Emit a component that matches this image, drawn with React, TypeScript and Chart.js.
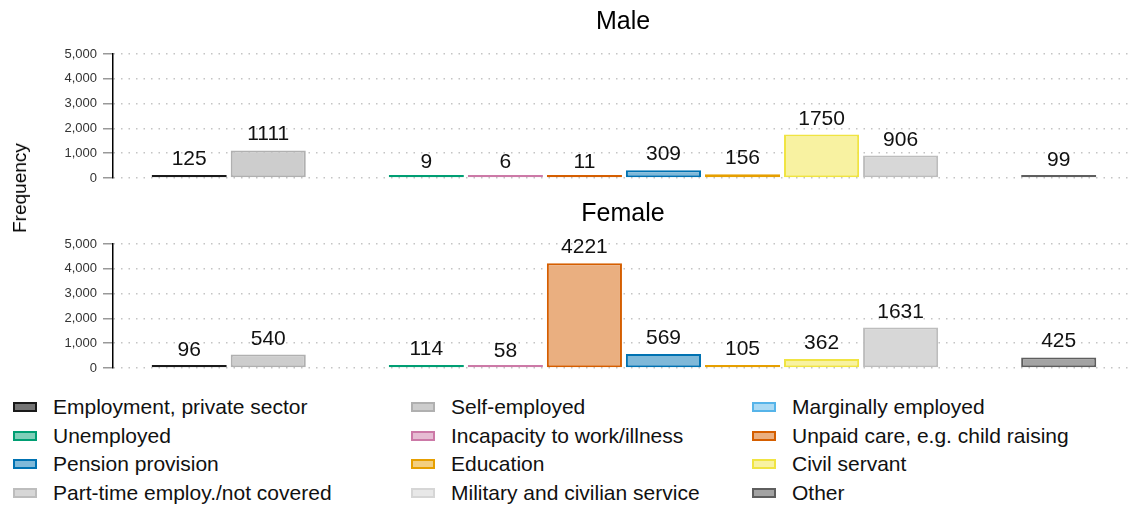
import React, { useEffect, useRef } from "react";
import { Chart, registerables } from "chart.js";

Chart.register(...registerables);

const FONT = "'Liberation Sans', Arial, sans-serif";

const categories = [
  "Employment, private sector",
  "Self-employed",
  "Marginally employed",
  "Unemployed",
  "Incapacity to work/illness",
  "Unpaid care, e.g. child raising",
  "Pension provision",
  "Education",
  "Civil servant",
  "Part-time employ./not covered",
  "Military and civilian service",
  "Other",
];

const maleValues: (number | null)[] = [125, 1111, null, 9, 6, 11, 309, 156, 1750, 906, null, 99];
const femaleValues: (number | null)[] = [96, 540, null, 114, 58, 4221, 569, 105, 362, 1631, null, 425];

const fillColors = [
  "#747474",
  "#cdcdcd",
  "#abdaf4",
  "#80cfb9",
  "#e6bcd3",
  "#eaaf80",
  "#80b9d9",
  "#f3cf80",
  "#f8f2a1",
  "#d7d7d7",
  "#e8e8e8",
  "#a3a3a3",
];

const borderColors = [
  "#1a1a1a",
  "#b0b0b0",
  "#56b4e9",
  "#009e73",
  "#cc79a7",
  "#d55e00",
  "#0072b2",
  "#e69f00",
  "#f0e442",
  "#bdbdbd",
  "#d6d6d6",
  "#5e5e5e",
];

const yTicks = [0, 1000, 2000, 3000, 4000, 5000];
const panelTitles = ["Male", "Female"];
const yAxisTitle = "Frequency";

const valueLabels = {
  id: "valueLabels",
  afterDatasetsDraw(chart: any) {
    const { ctx } = chart;
    const meta = chart.getDatasetMeta(0);
    const ds = chart.data.datasets[0];
    const yScale = chart.scales.y;
    ctx.save();
    ctx.font = `21px ${FONT}`;
    ctx.fillStyle = "#111";
    ctx.textAlign = "center";
    ctx.textBaseline = "alphabetic";
    meta.data.forEach((el: any, i: number) => {
      const raw: any = ds.data[i];
      const v = raw ? raw.y : null;
      if (v == null) return;
      ctx.fillText(String(v), el.x, yScale.getPixelForValue(v) - 10);
    });
    ctx.restore();
  },
};

function Panel({ title, values, titlePad }: { title: string; values: (number | null)[]; titlePad: { top: number; bottom: number } }) {
  const ref = useRef<HTMLCanvasElement>(null);
  useEffect(() => {
    if (!ref.current) return;
    const chart = new Chart(ref.current, {
      type: "bar",
      data: {
        datasets: [
          {
            data: values.map((v, i) => ({ x: i + 1, y: v })) as any,
            backgroundColor: fillColors,
            borderColor: borderColors,
            borderWidth: 2,
            borderSkipped: false,
            minBarLength: 3,
            barPercentage: 0.95,
            categoryPercentage: 1,
          } as any,
        ],
      },
      options: {
        responsive: false,
        animation: false,
        devicePixelRatio: 1,
        layout: { padding: { left: 0, right: 0, top: 0, bottom: 12 } },
        plugins: {
          legend: { display: false },
          tooltip: { enabled: false },
          title: {
            display: true,
            text: title,
            fullSize: false,
            color: "#000",
            font: { size: 25, family: FONT, weight: "normal" as any },
            padding: titlePad,
          },
        },
        scales: {
          x: {
            type: "linear",
            min: 0.036,
            max: 12.94,
            offset: false,
            display: false,
            grid: { offset: false },
            afterBuildTicks: (s: any) => {
              s.ticks = categories.map((_, i) => ({ value: i + 1 }));
            },
          },
          y: {
            min: 0,
            max: 5000,
            afterFit: (s: any) => {
              s.width = 113;
              s.paddingTop = 0;
              s.paddingBottom = 0;
            },
            afterBuildTicks: (s: any) => {
              s.ticks = yTicks.map((v) => ({ value: v }));
            },
            ticks: {
              font: { size: 13, family: FONT },
              color: "#333",
              padding: 6,
              callback: (v: any) => Number(v).toLocaleString("en-US"),
            },
            grid: {
              color: "#c4c4c4",
              lineWidth: 1.5,
              tickLength: 10,
              tickColor: "#999",
              tickWidth: 1.5,
              tickBorderDash: [],
            } as any,
            border: { display: true, color: "#000", width: 1.5, dash: [1.5, 6] },
          },
        },
      } as any,
      plugins: [valueLabels],
    });
    return () => chart.destroy();
  }, []);
  return <canvas ref={ref} width={1133} height={190} style={{ display: "block" }} />;
}

const legendColX = [13, 411, 752];
const legendRowY = [407, 435.7, 464.3, 493];

export default function App() {
  return (
    <div style={{ position: "fixed", left: 0, top: 0, width: 1133, height: 507, background: "#fff", fontFamily: FONT, overflow: "hidden" }}>
      <div style={{ position: "absolute", left: 0, top: 0 }}>
        <Panel title={panelTitles[0]} values={maleValues} titlePad={{ top: 7, bottom: 17 }} />
      </div>
      <div style={{ position: "absolute", left: 0, top: 190 }}>
        <Panel title={panelTitles[1]} values={femaleValues} titlePad={{ top: 9, bottom: 15 }} />
      </div>
      <div
        style={{
          position: "absolute",
          left: 20,
          top: 188,
          transform: "translate(-50%, -50%) rotate(-90deg)",
          fontSize: 19,
          whiteSpace: "nowrap",
          color: "#000",
        }}
      >
        {yAxisTitle}
      </div>
      {categories.map((c, i) => {
        const col = i % 3;
        const row = Math.floor(i / 3);
        return (
          <div
            key={c}
            style={{
              position: "absolute",
              left: legendColX[col],
              top: legendRowY[row] - 14,
              height: 28,
              display: "flex",
              alignItems: "center",
              whiteSpace: "nowrap",
              fontSize: 21,
              color: "#111",
            }}
          >
            <span
              style={{
                display: "inline-block",
                width: 20,
                height: 6,
                background: fillColors[i],
                border: `2px solid ${borderColors[i]}`,
                marginRight: 16,
              }}
            />
            <span>{c}</span>
          </div>
        );
      })}
    </div>
  );
}
